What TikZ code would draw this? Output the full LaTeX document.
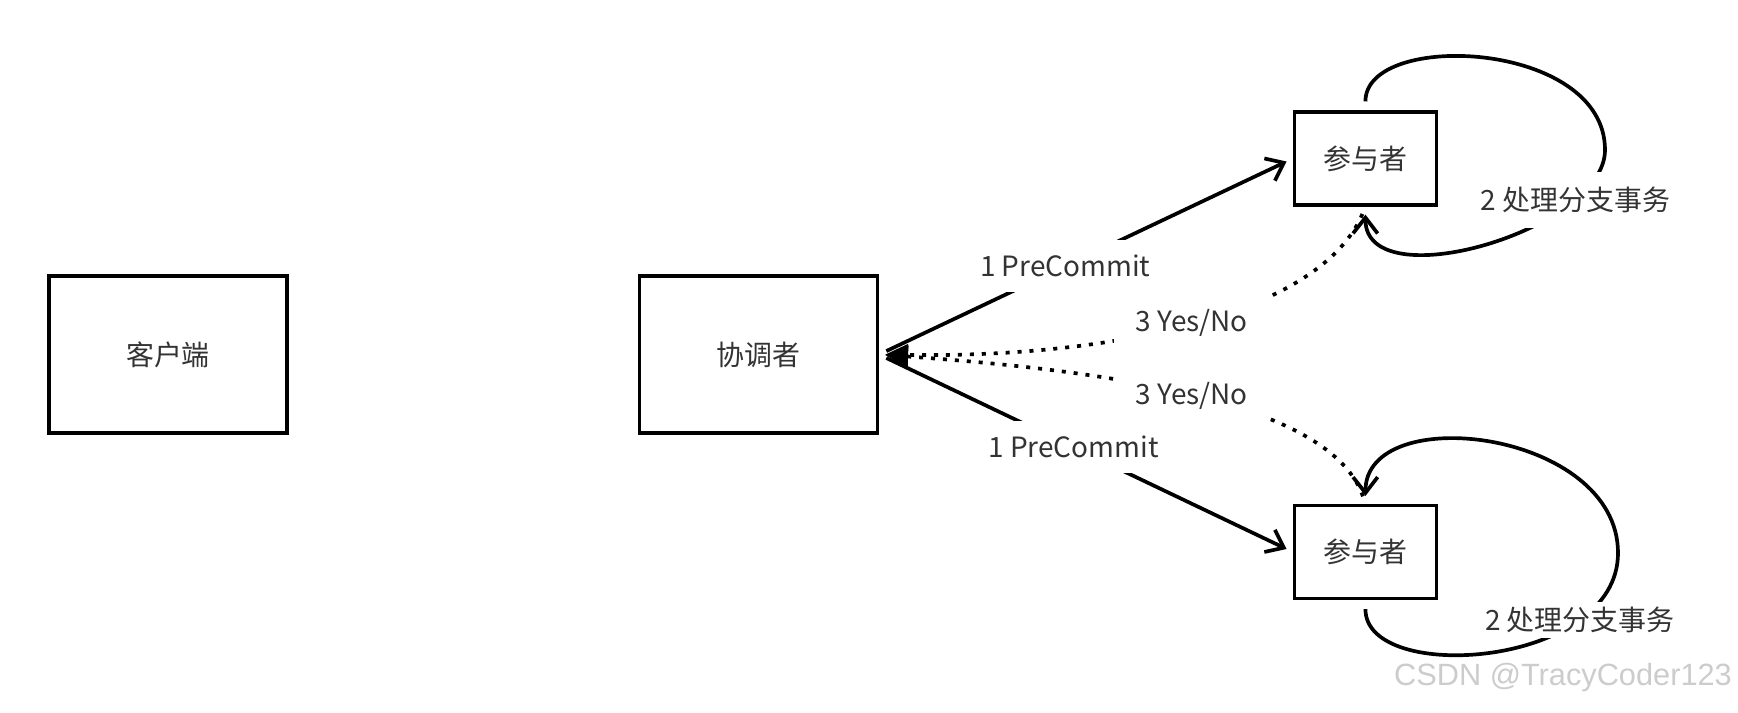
\documentclass[tikz,border=0pt]{standalone}
\usepackage{fontspec}
\setmainfont{Noto Sans CJK SC}
\newfontfamily\markfont{Liberation Sans}
\usetikzlibrary{arrows.meta}

\begin{document}
\begin{tikzpicture}[x=0.2mm,y=-0.2mm,
  font=\fontsize{15.9pt}{18pt}\selectfont,
  box/.style={draw=black,line width=1.8pt,text=black!80},
  msg/.style={line width=2.1pt,-{Straight Barb[length=9pt,width=14pt]}},
  reply/.style={line width=2.1pt,dash pattern=on 2.3pt off 4.5pt,
    -{Triangle[length=13pt,width=12pt]}},
  tag/.style={fill=white,inner xsep=0.44cm,inner ysep=0.3cm,text=black!80}]

\useasboundingbox (0,0) rectangle (1738,712);

% Boxes
\node[box,minimum width=4.76cm,minimum height=3.14cm] (client) at (168,354.5) {客户端};
\node[box,minimum width=4.76cm,minimum height=3.14cm] (coord) at (758.5,354.5) {协调者};
\node[box,minimum width=2.84cm,minimum height=1.86cm] (ptop) at (1365.5,158.5) {参与者};
\node[box,minimum width=2.84cm,minimum height=1.86cm] (pbot) at (1365.5,552) {参与者};

% PreCommit
\draw[msg,shorten <=0.16cm,shorten >=0.14cm]
  (coord.east) -- node[tag,pos=0.45] {1 PreCommit} (ptop.west);
\draw[msg,shorten <=0.16cm,shorten >=0.14cm]
  (coord.east) -- node[tag,pos=0.47] {1 PreCommit} (pbot.west);

% Yes/No
\draw[reply,shorten <=0.16cm,shorten >=0.12cm]
  (ptop.south) .. controls (1320,315) and (1110,358)
  .. node[tag,pos=0.5] {3 Yes/No} (coord.east);
\draw[reply,shorten <=0.16cm,shorten >=0.12cm]
  (pbot.north) .. controls (1330,400) and (1100,370)
  .. node[tag,pos=0.5] {3 Yes/No} (coord.east);

% Branch work
\draw[msg,shorten <=0.18cm,shorten >=0.16cm]
  (ptop.north) .. controls (1365,30) and (1605,40) .. (1605,150)
  .. controls (1605,230) and (1365,300)
  .. node[tag,pos=0.22] {2 处理分支事务} (ptop.south);
\draw[msg,shorten <=0.18cm,shorten >=0.16cm]
  (pbot.south) .. controls (1365,685) and (1618,668)
  .. node[tag,inner xsep=0.2cm,inner ysep=0.1cm,pos=0.755] {2 处理分支事务} (1618,553)
  .. controls (1618,430) and (1365,400) .. (pbot.north);

% Watermark
\node[text=black!20,font=\markfont\fontsize{17.5pt}{20pt}\selectfont] (mark)
  at (1563,678) {CSDN @TracyCoder123};

\end{tikzpicture}
\end{document}
